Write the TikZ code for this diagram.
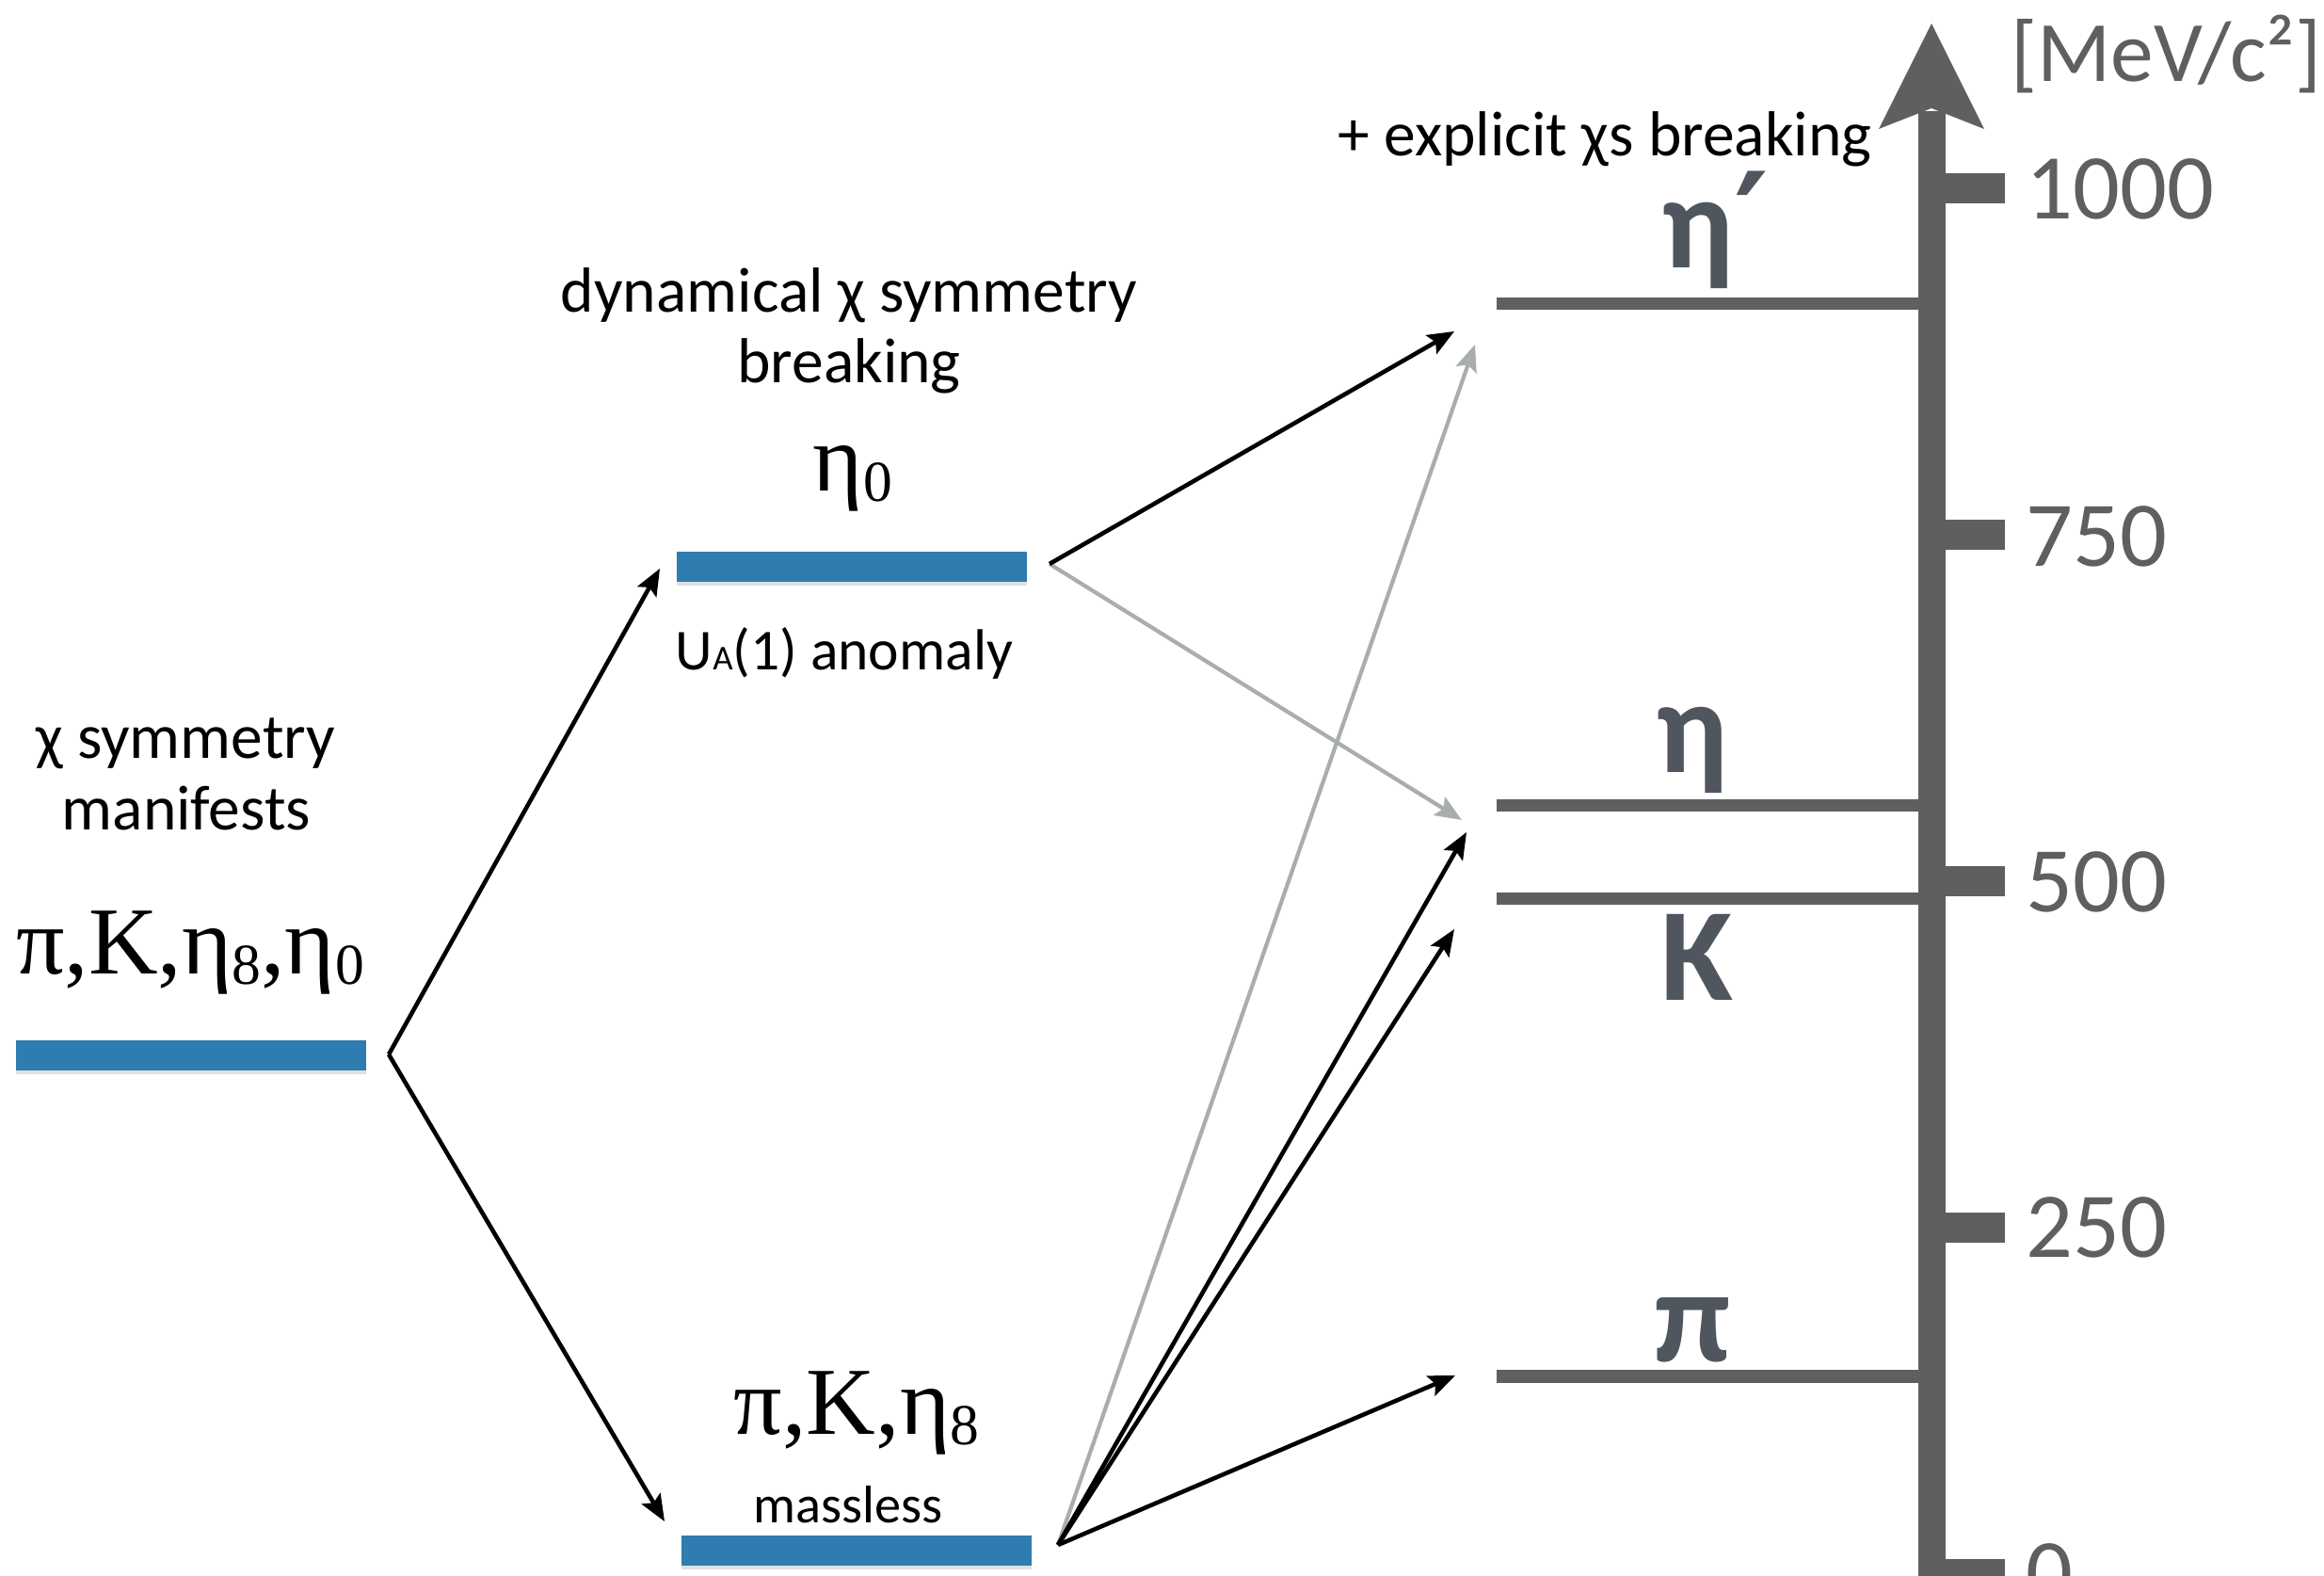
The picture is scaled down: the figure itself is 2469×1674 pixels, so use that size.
\documentclass[tikz,border=0pt]{standalone}
\usepackage{fontspec}
\setmainfont{Carlito}
\newfontfamily\grk{Liberation Serif}
\newfontfamily\djv{DejaVu Sans}
\usetikzlibrary{arrows.meta,shadows}
\definecolor{barblue}{RGB}{46,124,176}
\definecolor{axisgray}{RGB}{95,95,95}
\definecolor{lblgray}{RGB}{80,86,94}
\definecolor{arrgray}{RGB}{169,173,173}
\newcommand{\mysub}[1]{\raisebox{-0.1em}{\fontsize{17.5}{17.5}\selectfont #1}}
\begin{document}
\begin{tikzpicture}[x=0.01cm,y=-0.01cm,
  bar/.style={rectangle, fill=barblue, minimum width=3.72cm, minimum height=0.32cm, inner sep=0pt,
    drop shadow={shadow xshift=0pt, shadow yshift=-1.2pt, opacity=0.12, fill=black}},
  anno/.style={font=\fontsize{19.2}{22}\selectfont, inner sep=0pt, anchor=base},
  serifl/.style={font=\grk\fontsize{29}{29}\selectfont, inner sep=0pt, anchor=base},
  lvllabel/.style={font=\bfseries\fontsize{40}{40}\selectfont, text=lblgray, inner sep=0pt, anchor=base},
  level/.style={rectangle, fill=axisgray, minimum width=4.56cm, minimum height=0.13cm, inner sep=0pt, anchor=west},
  ticklabel/.style={font=\fontsize{28}{28}\selectfont, text=axisgray, inner sep=0pt, anchor=west},
  blk/.style={-{Stealth[length=8pt,width=6.5pt,inset=1.5pt]}, line width=1.3pt, black},
  gry/.style={-{Stealth[length=8pt,width=6.5pt,inset=1.5pt]}, line width=1.2pt, arrgray}]
\useasboundingbox (0,0) rectangle (2469,1674);

% axis
\draw[axisgray, line width=0.29cm] (2052,1720) -- (2052,118);
\fill[axisgray] (2052,25) -- (2108,137) -- (2052,115) -- (1996,137) -- cycle;
\foreach \t in {200,568,936,1304,1672}
  \fill[axisgray] (2060,\t-16) rectangle (2130,\t+16);
\node[ticklabel] (l1000) at (2152,201) {1000};
\node[ticklabel] (l750) at (2152,570) {750};
\node[ticklabel] (l500) at (2152,937) {500};
\node[ticklabel] (l250) at (2152,1304) {250};
\node[ticklabel] (l0) at (2152,1672) {0};
\node[font=\fontsize{26}{26}\selectfont, text=axisgray, inner sep=0pt, anchor=east] (unit) at (2467,57) {[MeV/c²]};

% levels
\node[level] (lvEtaP) at (1589,323) {};
\node[level] (lvEta) at (1589,856) {};
\node[level] (lvK) at (1589,955) {};
\node[level] (lvPi) at (1589,1462) {};
\node[lvllabel, anchor=base west] (nEtaP) at (1765,285) {η{\djv\bfseries ′}};
\node[lvllabel] (nEta) at (1798,821) {η};
\node[lvllabel] (nK) at (1803,1063) {K};
\node[lvllabel] (nPi) at (1798,1447) {π};

% bars
\node[bar] (bar1) at (203,1121) {};
\node[bar] (bar2) at (905,602) {};
\node[bar] (bar3) at (910,1647) {};

% texts
\node[anno] (chi1) at (197,806) {χ symmetry};
\node[anno] (chi2) at (198,882) {manifests};
\node[serifl] (all) at (202,1035) {π,K,η\mysub{8},η\mysub{0}};
\node[anno] (dyn1) at (902,332) {dynamical χ symmetry};
\node[anno] (dyn2) at (902,407) {breaking};
\node[serifl] (eta0) at (906,522) {η\mysub{0}};
\node[anno, font=\fontsize{17.5}{20}\selectfont] (ua) at (897,712) {U{\fontsize{10.5}{10.5}\selectfont A}(1) anomaly};
\node[serifl] (pke) at (910,1524) {π,K,η\mysub{8}};
\node[anno, font=\fontsize{16}{18}\selectfont] (ml) at (901,1617) {massless};
\node[anno, anchor=base west] (expl) at (1421,166) {+ explicit χs breaking};

% connector points
\coordinate (v1) at (413,1120);
\coordinate (v2) at (1115,599);
\coordinate (v3) at (1124,1641);
\coordinate (t01) at (701,604);
\coordinate (t02) at (706,1616);
\coordinate (tEtaPb) at (1545,352);
\coordinate (tEtaPg) at (1567,366);
\coordinate (tEtag) at (1553,871);
\coordinate (tEtab) at (1558,884);
\coordinate (tK) at (1545,987);
\coordinate (tPi) at (1546,1461);

% arrows
\draw[gry] (v2) -- (tEtag);
\draw[gry] (v3) -- (tEtaPg);
\draw[blk] (v1) -- (t01);
\draw[blk] (v1) -- (t02);
\draw[blk] (v2) -- (tEtaPb);
\draw[blk] (v3) -- (tEtab);
\draw[blk] (v3) -- (tK);
\draw[blk] (v3) -- (tPi);
\end{tikzpicture}
\end{document}
